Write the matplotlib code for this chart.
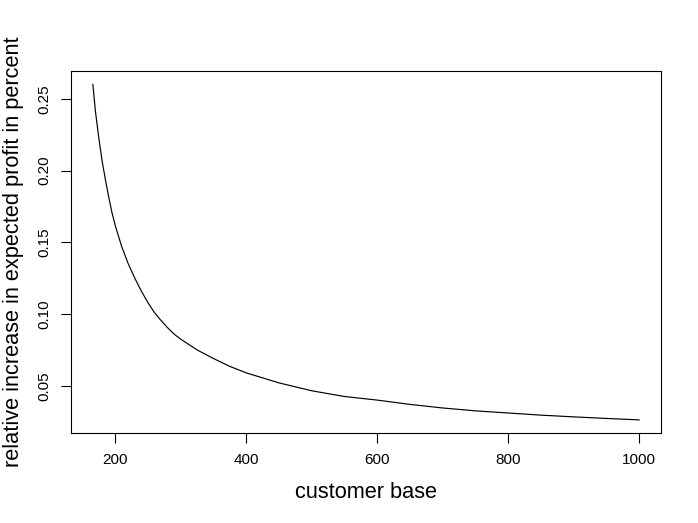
import matplotlib
matplotlib.use("Agg")
import matplotlib.pyplot as plt

# customer base vs relative increase in expected profit
kunden = [166, 170, 175, 180, 185, 190, 195, 200, 210, 220, 230, 240, 250, 260,
          270, 280, 290, 300, 325, 350, 375, 400, 450, 500, 550, 600, 650, 700,
          750, 800, 850, 900, 950, 1000]
aumento = [0.260, 0.241, 0.223, 0.207, 0.194, 0.182, 0.171, 0.162, 0.147, 0.135,
           0.125, 0.116, 0.108, 0.101, 0.0955, 0.0905, 0.086, 0.0825, 0.075, 0.069,
           0.0635, 0.059, 0.052, 0.0465, 0.0425, 0.040, 0.037, 0.0345, 0.0325,
           0.031, 0.0295, 0.0283, 0.0272, 0.0262]

xticks = [200, 400, 600, 800, 1000]
yticks = [0.05, 0.10, 0.15, 0.20, 0.25]
ytick_labels = ["0.05", "0.10", "0.15", "0.20", "0.25"]

plt.rcParams['font.family'] = ['Liberation Sans', 'DejaVu Sans']

fig = plt.figure(figsize=(6.98, 5.23), dpi=100)
ax = fig.add_axes([71 / 698, 1 - 433.3 / 523, (661 - 71) / 698, (433.3 - 71) / 523])

ax.plot(kunden, aumento, color='black', linewidth=0.85)

# R style 4% padding
def pad(lo, hi):
    d = (hi - lo) * 0.04
    return lo - d, hi + d

ax.set_xlim(*pad(min(kunden), max(kunden)))
ax.set_ylim(*pad(min(aumento), max(aumento)))

ax.set_xticks(xticks)
ax.set_xticklabels([str(t) for t in xticks], fontsize=11)
ax.set_yticks(yticks)
ax.set_yticklabels(ytick_labels, fontsize=11, rotation=90, va='center')
ax.tick_params(direction='out', length=7, width=0.8, pad=7)

for s in ax.spines.values():
    s.set_linewidth(0.8)

ax.set_xlabel('customer base', fontsize=15.7, labelpad=11)
ax.set_ylabel('relative increase in expected profit in percent', fontsize=15.7, labelpad=10)

fig.savefig('out.png', dpi=100)
